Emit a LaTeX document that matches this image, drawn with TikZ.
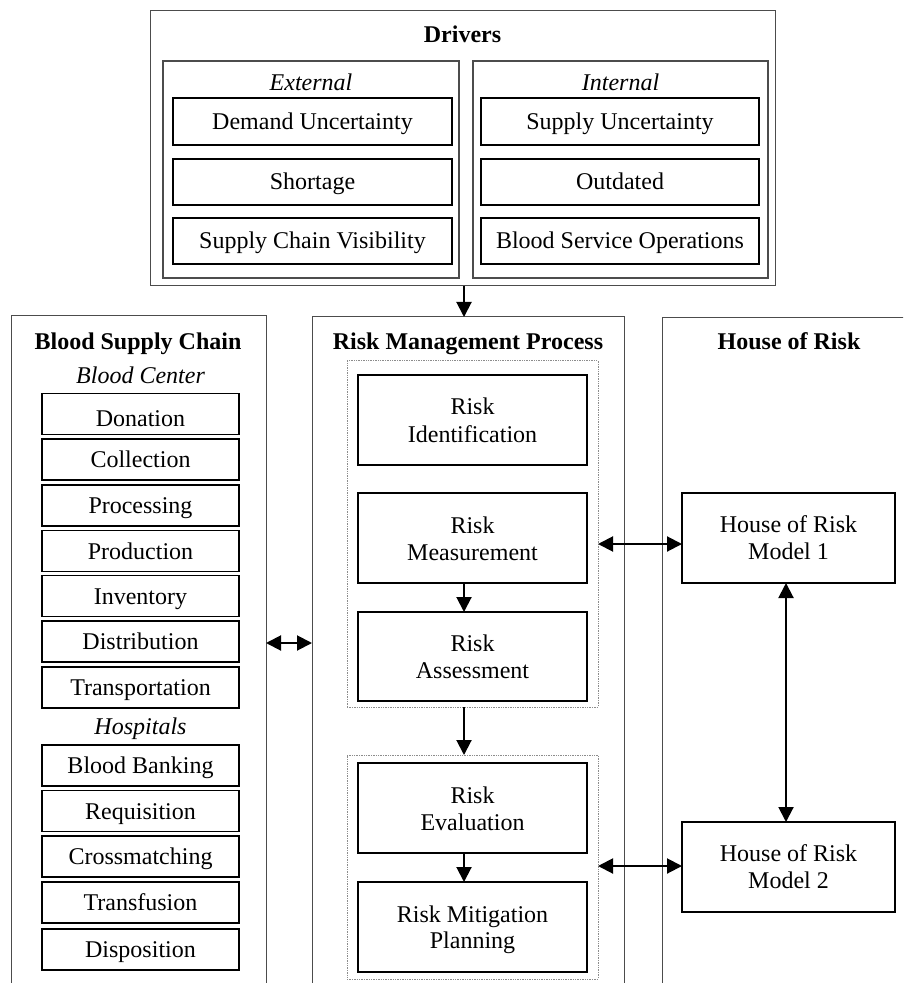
\documentclass[tikz,border=0pt]{standalone}
\usepackage{fontspec}
\setmainfont{Liberation Serif}
\usetikzlibrary{arrows.meta,fit}
\begin{document}
\begin{tikzpicture}[x=0.5pt,y=-0.5pt,
  ln/.style={font=\fontsize{12}{13.5}\selectfont, anchor=base, inner sep=0},
  ttl/.style={font=\fontsize{12}{13.5}\selectfont\bfseries, anchor=base, inner sep=0},
  itl/.style={font=\fontsize{12}{13.5}\selectfont\itshape, anchor=base, inner sep=0},
  outer/.style={draw=black!70, line width=0.5pt, inner sep=0, outer sep=0},
  sub/.style={draw=black!70, line width=0.6pt, inner sep=0, outer sep=0},
  bx/.style={draw=black, line width=0.55pt, inner sep=0, outer sep=0},
  dotbox/.style={draw=black!45, line width=0.5pt, dash pattern=on 0.7pt off 0.5pt, inner sep=0, outer sep=0},
  arr/.style={-{Triangle[length=7.5pt,width=7.5pt]}, line width=1pt},
  darr/.style={{Triangle[length=7.5pt,width=7.5pt]}-{Triangle[length=7.5pt,width=7.5pt]}, line width=1pt}
]
\useasboundingbox (0,0) rectangle (903,983);
\clip (0,0) rectangle (903,983);

% Drivers
\node[outer, fit={(150,10.5)(775,286)}] (drv) {};
\node[ttl] (drvT) at (462.5,43) {Drivers};
\node[sub, fit={(163,61)(459,278)}] (ext) {};
\node[itl] (extT) at (311,91) {External};
\node[sub, fit={(473,61)(768,278)}] (int) {};
\node[itl] (intT) at (620.5,91) {Internal};
\node[bx, fit={(173,98)(452,145)}] (e1) {};
\node[ln] (e1t) at (312.5,129.3) {Demand Uncertainty};
\node[bx, fit={(173,159)(452,205)}] (e2) {};
\node[ln] (e2t) at (312.5,189.3) {Shortage};
\node[bx, fit={(173,218)(452,264)}] (e3) {};
\node[ln] (e3t) at (312.5,248.5) {Supply Chain Visibility};
\node[bx, fit={(481,98)(759,145)}] (i1) {};
\node[ln] (i1t) at (620,129.3) {Supply Uncertainty};
\node[bx, fit={(481,159)(759,205)}] (i2) {};
\node[ln] (i2t) at (620,189.3) {Outdated};
\node[bx, fit={(481,218)(759,264)}] (i3) {};
\node[ln] (i3t) at (620,248.8) {Blood Service Operations};

% Columns
\node[outer, fit={(11,316)(266,1000)}] (bsc) {};
\node[outer, fit={(312,317)(624,1000)}] (rmp) {};
\node[outer, fit={(662,318)(920,1000)}] (hor) {};
\node[ttl] (bscT) at (138,350) {Blood Supply Chain};
\node[ttl] (rmpT) at (468,350) {Risk Management Process};
\node[ttl] (horT) at (789,350) {House of Risk};

% Blood supply chain
\node[itl] (bc) at (140.5,383.5) {Blood Center};
\foreach \n/\t/\o/\lab in {b1/393.5/33/Donation, b2/439/28.5/Collection, b3/485/28.5/Processing, b4/530.5/28.5/Production, b5/575.5/28.5/Inventory, b6/621/28.5/Distribution, b7/667/28.5/Transportation, h1/745/28.5/Blood Banking, h2/790.5/28.5/Requisition, h3/836/28.5/Crossmatching, h4/882/28.5/Transfusion, h5/929/28.5/Disposition}{
  \node[bx, fit={(42,\t)(239,\t+41)}] (\n) {};
  \node[ln] (\n t) at (140.5,\t+\o) {\lab};
}
\node[itl] (hosp) at (140.5,734) {Hospitals};

% Risk management process
\node[dotbox, fit={(347,361)(598,707)}] (g1) {};
\node[dotbox, fit={(347,755)(598,979)}] (g2) {};
\node[bx, fit={(358,375)(587,465)}] (ri) {};
\node[ln] (ri1) at (472.5,415) {Risk};
\node[ln] (ri2) at (472.5,442) {Identification};
\node[bx, fit={(358,493)(587,583)}] (rm) {};
\node[ln] (rm1) at (472.5,533) {Risk};
\node[ln] (rm2) at (472.5,560) {Measurement};
\node[bx, fit={(358,612)(587,701)}] (ra) {};
\node[ln] (ra1) at (472.5,651.5) {Risk};
\node[ln] (ra2) at (472.5,678.5) {Assessment};
\node[bx, fit={(358,763)(587,853)}] (re) {};
\node[ln] (re1) at (472.5,803) {Risk};
\node[ln] (re2) at (472.5,830) {Evaluation};
\node[bx, fit={(358,882)(587,972)}] (rp) {};
\node[ln] (rp1) at (472.5,922) {Risk Mitigation};
\node[ln] (rp2) at (472.5,948.5) {Planning};

% House of risk
\node[bx, fit={(682,493)(895,583)}] (m1) {};
\node[ln] (m1a) at (788.5,532) {House of Risk};
\node[ln] (m1b) at (788.5,559) {Model 1};
\node[bx, fit={(682,822)(895,912)}] (m2) {};
\node[ln] (m2a) at (788.5,861) {House of Risk};
\node[ln] (m2b) at (788.5,888) {Model 2};

% helper coordinates
\coordinate (ax) at (464,0);
\coordinate (ay1) at (0,544);
\coordinate (ay2) at (0,866);
\coordinate (ly) at (0,643);
\coordinate (vx) at (786,0);

% connectors
\draw[arr] (drv.south -| ax) -- (rmp.north -| ax);
\draw[arr] (rm.south -| ax) -- (ra.north -| ax);
\draw[arr] (g1.south -| ax) -- (g2.north -| ax);
\draw[arr] (re.south -| ax) -- (rp.north -| ax);
\draw[darr] (bsc.east |- ly) -- (rmp.west |- ly);
\draw[darr] (g1.east |- ay1) -- (m1.west |- ay1);
\draw[darr] (g2.east |- ay2) -- (m2.west |- ay2);
\draw[darr] (m1.south -| vx) -- (m2.north -| vx);
\end{tikzpicture}
\end{document}
